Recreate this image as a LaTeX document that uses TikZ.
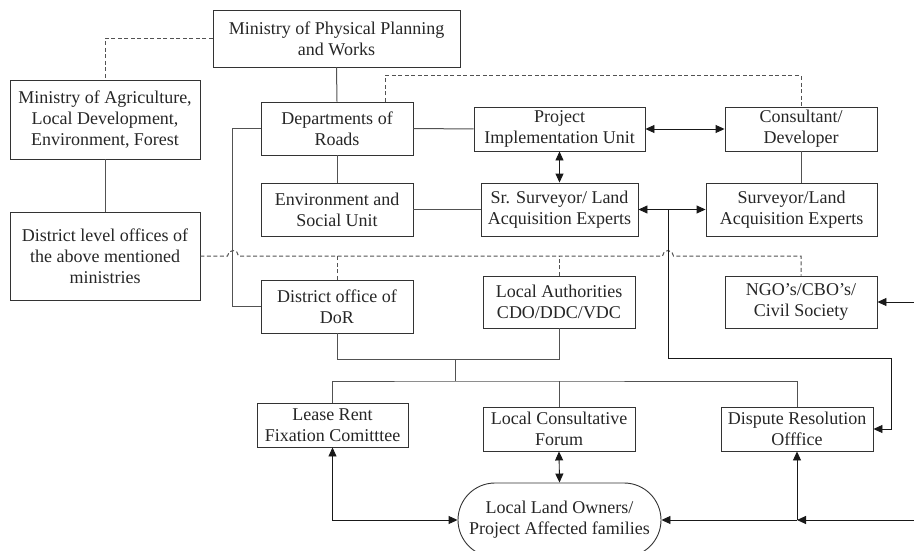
\documentclass[tikz,border=0pt]{standalone}
\usepackage{fontspec}
\setmainfont{Liberation Serif}
\usetikzlibrary{arrows.meta,shapes.misc}
\begin{document}
\begin{tikzpicture}[x=1pt,y=-1pt,
  box/.style={draw=black!80, line width=0.9pt, inner sep=0pt, align=center,
    text=black!85, font=\fontsize{18}{21}\selectfont},
  link/.style={draw=black!68, line width=1pt},
  dlink/.style={link, dash pattern=on 4pt off 2.5pt},
  tip/.tip={Triangle[length=9pt,width=8pt]},
  arr/.style={draw=black!90, line width=0.9pt, -tip},
  darr/.style={draw=black!90, line width=0.9pt, tip-tip},
]
\useasboundingbox (0,0) rectangle (914,551);

% boxes
\node[box, minimum width=247pt, minimum height=57pt] (mppw) at (336.5,38.5) {Ministry of Physical Planning\\and Works};
\node[box, minimum width=190pt, minimum height=79pt] (agri) at (105,119.5) {Ministry of Agriculture,\\Local Development,\\Environment, Forest};
\node[box, minimum width=152pt, minimum height=53pt] (dor) at (337,128.5) {Departments of\\Roads};
\node[box, minimum width=171pt, minimum height=44pt] (piu) at (559.5,129) {Project\\Implementation Unit};
\node[box, minimum width=152pt, minimum height=44pt] (cons) at (801,129) {Consultant/\\Developer};
\node[box, minimum width=152pt, minimum height=53pt] (esu) at (337,209.5) {Environment and\\Social Unit};
\node[box, minimum width=157pt, minimum height=53pt] (srs) at (559.5,209.5) {Sr. Surveyor/ Land\\Acquisition Experts};
\node[box, minimum width=171pt, minimum height=53pt] (surv) at (791.5,209.5) {Surveyor/Land\\Acquisition Experts};
\node[box, minimum width=190pt, minimum height=88pt] (dlo) at (105,256) {District level offices of\\the above mentioned\\ministries};
\node[box, minimum width=152pt, minimum height=53pt] (dod) at (337,306.5) {District office of\\DoR};
\node[box, minimum width=152pt, minimum height=52pt] (la) at (559,302) {Local Authorities\\CDO/DDC/VDC};
\node[box, minimum width=152pt, minimum height=52pt] (ngo) at (801,302) {NGO’s/CBO’s/\\Civil Society};
\node[box, minimum width=151pt, minimum height=44pt] (lease) at (332.5,425) {Lease Rent\\Fixation Comitttee};
\node[box, minimum width=152pt, minimum height=44pt] (lcf) at (559,429) {Local Consultative\\Forum};
\node[box, minimum width=152pt, minimum height=44pt] (dro) at (797,429) {Dispute Resolution\\Offfice};
\node[box, rounded rectangle, minimum width=203pt, minimum height=74pt] (llo) at (559.5,520) {Local Land Owners/\\Project Affected families};

% junction points
\coordinate (dtop) at (385,76);
\coordinate (jx) at (668,209.5);
\coordinate (jr) at (891,358);
\coordinate (bus) at (455,381);
\coordinate (busup) at (455,359);
\coordinate (rj) at (797,520);
\coordinate (rin) at (914,520);
\coordinate (nin) at (914,302);

% solid links
\draw[link] (mppw.south) -- (dor.north);
\draw[link] (dor.south) -- (esu.north);
\draw[link] (dor.east) -- (piu.west);
\draw[link] (dor.west) -- ++(-28,0) |- (dod.west);
\draw[link] (esu.east) -- (srs.west);
\draw[link] (cons.south) -- (cons.south |- surv.north);
\draw[link] (agri.south) -- (dlo.north);
\draw[link] (dod.south) -- ++(0,26) -| (la.south);
\draw[link] (busup) -- (bus);
\draw[link] (lease.north) |- (bus) -| (dro.north);
\draw[link] (lcf.north) -- (lcf.north |- bus);

% dashed links, hopping over the solid verticals
\draw[dlink] (mppw.west) -| (agri.north);
\draw[dlink] (dor.north -| dtop) |- (dtop) -| (cons.north);
\draw[dlink] (dlo.east) -- (227.5,256) arc[start angle=180, end angle=0, radius=5.5pt]
  -- (662.5,256) arc[start angle=180, end angle=0, radius=5.5pt] -- (801,256) -- (ngo.north);
\draw[dlink] (dod.north) -- (dod.north |- dlo.east);
\draw[dlink] (la.north) -- (la.north |- dlo.east);

% arrows
\draw[darr] (piu.east) -- (cons.west);
\draw[darr] (piu.south) -- (srs.north);
\draw[darr] (srs.east) -- (surv.west);
\draw[arr] (jx) |- (jr) |- (dro.east);
\draw[arr] (nin) -- (ngo.east);
\draw[darr] (lcf.south) -- (llo.north);
\draw[darr] (lease.south) |- (llo.west);
\draw[arr] (rin) -- (rj);
\draw[arr] (rj) -- (llo.east);
\draw[arr] (rj) -- (dro.south);
\end{tikzpicture}
\end{document}
